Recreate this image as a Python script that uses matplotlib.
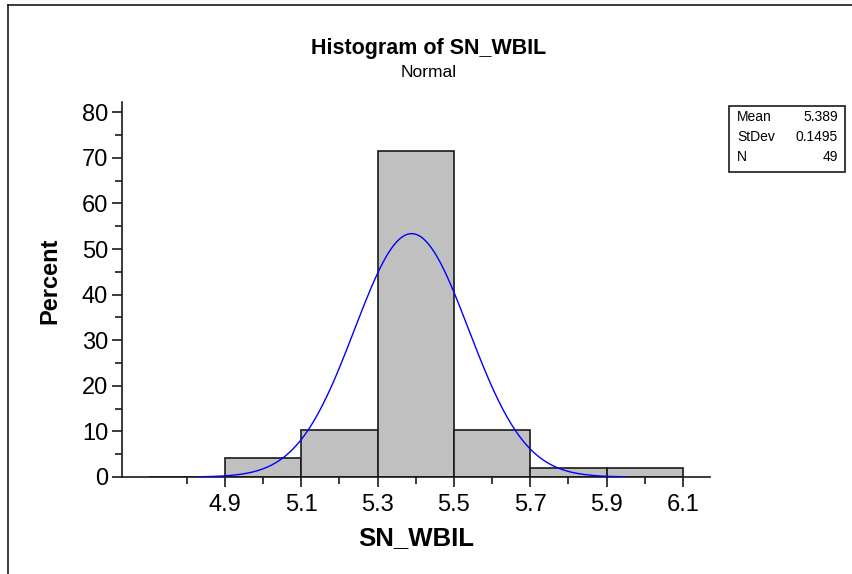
import numpy as np
import matplotlib.pyplot as plt
from matplotlib.ticker import MultipleLocator, FixedLocator

# bins (left edges) and percent per bin
bin_edges = [4.7, 4.9, 5.1, 5.3, 5.5, 5.7, 5.9]
percent = [0.0, 4.08, 10.2, 71.43, 10.2, 2.04, 2.04]
bin_width = 0.2

mean = 5.389
stdev = 0.1495
n = 49
stat_labels = ["Mean", "StDev", "N"]
stat_values = ["5.389", "0.1495", "49"]

xticks = [4.9, 5.1, 5.3, 5.5, 5.7, 5.9, 6.1]

plt.rcParams['font.family'] = ['Liberation Sans', 'DejaVu Sans']

fig = plt.figure(figsize=(8.52, 5.74), dpi=100)
ax = fig.add_axes([0.1432, 0.169, 0.6901, 0.653])

ax.bar(bin_edges, percent, width=bin_width, align='edge',
       color='#c0c0c0', edgecolor='#1a1a1a', linewidth=1.2, zorder=2)

# fitted normal curve
xs = np.linspace(4.83, 5.95, 300)
pdf = np.exp(-0.5 * ((xs - mean) / stdev) ** 2) / (stdev * np.sqrt(2 * np.pi))
ax.plot(xs, pdf * bin_width * 100, color='#0000ff', linewidth=1.0, zorder=3)

ax.set_xlim(4.63, 6.171)
ax.set_ylim(0, 82.2)
ax.xaxis.set_major_locator(FixedLocator(xticks))
ax.xaxis.set_minor_locator(FixedLocator([4.8, 5.0, 5.2, 5.4, 5.6, 5.8, 6.0]))
ax.yaxis.set_major_locator(MultipleLocator(10))
ax.yaxis.set_minor_locator(MultipleLocator(5))
ax.set_xticklabels([f"{t:.1f}" for t in xticks])

for s in ['top', 'right']:
    ax.spines[s].set_visible(False)
for s in ['left', 'bottom']:
    ax.spines[s].set_linewidth(1.2)
    ax.spines[s].set_color('#1a1a1a')

ax.tick_params(axis='both', which='major', length=7, width=1.2, direction='out',
               labelsize=17, color='#1a1a1a')
ax.tick_params(axis='both', which='minor', length=5, width=1.2, direction='out',
               color='#1a1a1a')
ax.tick_params(axis='y', which='major', pad=3)
ax.tick_params(axis='x', which='major', pad=5)

ax.set_xlabel("SN_WBIL", fontsize=18.5, fontweight='bold', va='center')
ax.set_ylabel("Percent", fontsize=17, fontweight='bold', va='center')
ax.xaxis.set_label_coords((416 - 122) / 588, -(538 - 477) / 375)
ax.yaxis.set_label_coords(-(122 - 50) / 588, (477 - 281) / 375)

fig.text(0.503, 1 - 54 / 574, "Histogram of SN_WBIL", ha='center', va='baseline',
         fontsize=15.5, fontweight='bold')
fig.text(0.503, 1 - 77 / 574, "Normal", ha='center', va='baseline', fontsize=12.5)

# stats box
bx0, by0, bw, bh = 729 / 852, 1 - 172 / 574, 116 / 852, 66 / 574
fig.patches.append(plt.Rectangle((bx0, by0), bw, bh, transform=fig.transFigure,
                                 fill=False, edgecolor='#1a1a1a', linewidth=1.2))
for i, (lab, val) in enumerate(zip(stat_labels, stat_values)):
    yy = 1 - (117 + i * 20) / 574
    fig.text(bx0 + 8 / 852, yy, lab, ha='left', va='center', fontsize=10)
    fig.text(bx0 + bw - 7 / 852, yy, val, ha='right', va='center', fontsize=10)

# outer frame lines (top and left)
fig.add_artist(plt.Line2D([8 / 852, 8 / 852], [0, 1 - 5 / 574], transform=fig.transFigure,
                          color='#1a1a1a', linewidth=1.2))
fig.add_artist(plt.Line2D([8 / 852, 1], [1 - 5 / 574, 1 - 5 / 574], transform=fig.transFigure,
                          color='#1a1a1a', linewidth=1.2))

fig.savefig("out.png", dpi=100)
